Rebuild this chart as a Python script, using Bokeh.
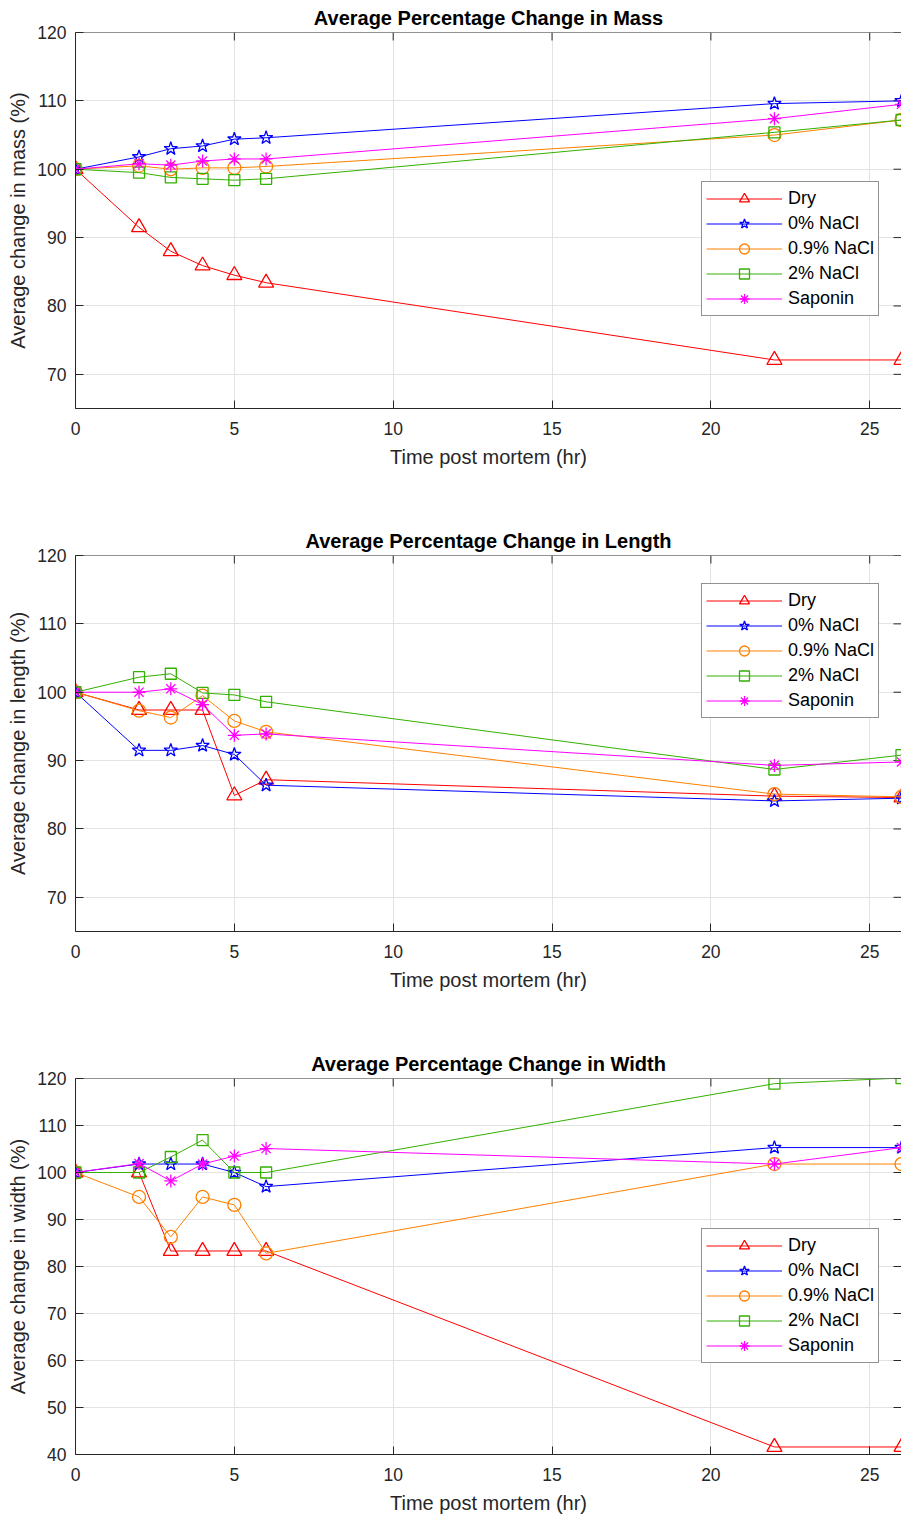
from bokeh.plotting import figure
from bokeh.models import FixedTicker, Range1d, Legend, LegendItem, Span
from bokeh.layouts import column
from bokeh.embed import file_html
from bokeh.resources import INLINE

# ---------------- data ----------------
time_hr = [0, 2, 3, 4, 5, 6, 22, 26]
series_names = ["Dry", "0% NaCl", "0.9% NaCl", "2% NaCl", "Saponin"]

mass_dry = [100, 91.5, 88.0, 85.9, 84.5, 83.4, 72.1, 72.1]
mass_nacl0 = [100, 101.8, 103.0, 103.4, 104.4, 104.6, 109.6, 110.0]
mass_nacl09 = [100, 100.5, 100.0, 100.2, 100.2, 100.4, 105.0, 107.2]
mass_nacl2 = [100, 99.5, 98.8, 98.6, 98.4, 98.6, 105.4, 107.2]
mass_saponin = [100, 100.8, 100.6, 101.2, 101.5, 101.5, 107.4, 109.5]

length_dry = [100, 97.4, 97.4, 97.4, 84.9, 87.2, 84.8, 84.6]
length_nacl0 = [100, 91.5, 91.5, 92.2, 90.9, 86.4, 84.1, 84.5]
length_nacl09 = [100, 97.3, 96.3, 99.5, 95.8, 94.2, 85.1, 84.7]
length_nacl2 = [100, 102.2, 102.7, 99.9, 99.6, 98.6, 88.7, 90.8]
length_saponin = [100, 100.0, 100.5, 98.2, 93.7, 93.9, 89.3, 89.8]

width_dry = [100, 100, 83.3, 83.3, 83.3, 83.3, 41.6, 41.6]
width_nacl0 = [100, 101.8, 101.8, 101.8, 100.0, 97.0, 105.3, 105.3]
width_nacl09 = [100, 94.8, 86.3, 94.8, 93.1, 82.8, 101.8, 101.8]
width_nacl2 = [100, 100, 103.3, 106.9, 100, 100, 118.9, 120.1]
width_saponin = [100, 101.9, 98.2, 101.8, 103.5, 105.1, 101.8, 105.3]

x_ticks = [0, 5, 10, 15, 20, 25]
y_ticks_top = [70, 80, 90, 100, 110, 120]
y_ticks_width = [40, 50, 60, 70, 80, 90, 100, 110, 120]
x_start, x_end = 0, 26

# ---------------- style ----------------
colors = ["#ff0000", "#0000ff", "#ff8000", "#33b000", "#ff00ff"]
markers = ["triangle", "star", "circle", "square", "asterisk"]
marker_sizes = [15, 14, 13, 11, 13]
AX = "#262626"
FONT = "Liberation Sans"
FRAME_W, FRAME_H = 826, 376
TICK_LEN = 8


def make_panel(title, ylabel, series, y0, y1, yticks, legend_loc, border_bottom):
    p = figure(frame_width=FRAME_W, frame_height=FRAME_H,
               x_range=Range1d(x_start, x_end), y_range=Range1d(y0, y1),
               output_backend="svg", toolbar_location=None,
               min_border_left=75, min_border_right=0,
               min_border_top=32, min_border_bottom=border_bottom)
    p.outline_line_color = None
    p.background_fill_color = "white"
    p.border_fill_color = "white"

    p.title.text = title
    p.title.align = "center"
    p.title.text_font = FONT
    p.title.text_font_size = "20px"
    p.title.text_font_style = "bold"
    p.title.text_color = "black"
    p.title.standoff = 7

    for ax, ticks in ((p.xaxis[0], x_ticks), (p.yaxis[0], yticks)):
        ax.ticker = FixedTicker(ticks=ticks)
        ax.axis_line_color = AX
        ax.major_tick_line_color = AX
        ax.major_tick_in = TICK_LEN
        ax.major_tick_out = 0
        ax.minor_tick_line_color = None
        ax.major_label_text_font = FONT
        ax.major_label_text_font_size = "17.5px"
        ax.major_label_text_color = AX
        ax.axis_label_text_font = FONT
        ax.axis_label_text_font_size = "20px"
        ax.axis_label_text_font_style = "normal"
        ax.axis_label_text_color = AX
    p.xaxis[0].axis_label = "Time post mortem (hr)"
    p.xaxis[0].major_label_standoff = 13
    p.xaxis[0].axis_label_standoff = 8
    p.yaxis[0].axis_label = ylabel
    p.yaxis[0].major_label_standoff = 9
    p.yaxis[0].axis_label_standoff = 5

    p.xgrid.ticker = FixedTicker(ticks=x_ticks)
    p.ygrid.ticker = FixedTicker(ticks=yticks)
    p.grid.grid_line_color = "#e3e3e3"
    p.grid.grid_line_width = 1

    # top spine, plus inward ticks on the top and right edges of the box
    p.add_layout(Span(location=y1, dimension="width", line_color=AX, line_width=1))
    dy = TICK_LEN * (y1 - y0) / FRAME_H
    dx = TICK_LEN * (x_end - x_start) / FRAME_W
    p.segment(x0=x_ticks, y0=[y1] * len(x_ticks), x1=x_ticks,
              y1=[y1 - dy] * len(x_ticks), line_color=AX, line_width=1)
    p.segment(x0=[x_end] * len(yticks), y0=yticks, x1=[x_end - dx] * len(yticks),
              y1=yticks, line_color=AX, line_width=1)

    items = []
    for name, ys, c, m, s in zip(series_names, series, colors, markers, marker_sizes):
        lr = p.line(time_hr, ys, line_color=c, line_width=1)
        sr = p.scatter(time_hr, ys, marker=m, size=s, line_color=c,
                       fill_color=None, line_width=1.3)
        items.append(LegendItem(label=name, renderers=[lr, sr]))

    leg = Legend(items=items, location=legend_loc)
    leg.label_text_font = FONT
    leg.label_text_font_size = "18px"
    leg.label_text_color = "black"
    leg.glyph_width = 76
    leg.glyph_height = 25
    leg.label_height = 25
    leg.label_standoff = 6
    leg.spacing = 0
    leg.padding = 4
    leg.margin = 0
    leg.border_line_color = AX
    leg.border_line_width = 1
    leg.background_fill_color = "white"
    leg.background_fill_alpha = 1
    p.add_layout(leg, "center")
    return p


p1 = make_panel("Average Percentage Change in Mass", "Average change in mass (%)",
                [mass_dry, mass_nacl0, mass_nacl09, mass_nacl2, mass_saponin],
                65, 120, y_ticks_top, (626, 92), 115)
p2 = make_panel("Average Percentage Change in Length", "Average change in length (%)",
                [length_dry, length_nacl0, length_nacl09, length_nacl2, length_saponin],
                65, 120, y_ticks_top, (626, 213), 115)
p3 = make_panel("Average Percentage Change in Width", "Average change in width (%)",
                [width_dry, width_nacl0, width_nacl09, width_nacl2, width_saponin],
                40, 120, y_ticks_width, (626, 91), 55)

layout = column(p1, p2, p3, spacing=0)
open("out.html", "w").write(file_html(layout, INLINE))
